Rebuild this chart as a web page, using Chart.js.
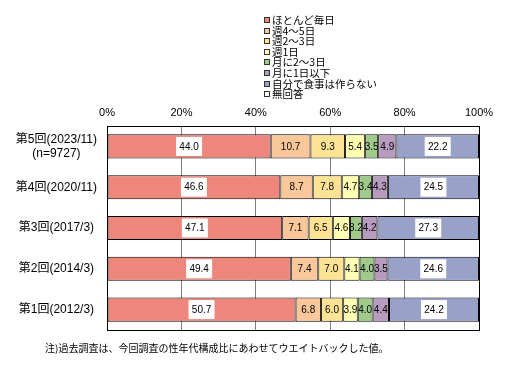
<!DOCTYPE html>
<html>
<head>
<meta charset="utf-8">
<script src="https://cdn.jsdelivr.net/npm/chart.js@4/dist/chart.umd.min.js"></script>
<style>
  html, body { margin: 0; padding: 0; background: #fff; }
  #wrap { position: relative; width: 521px; height: 369px; }
  #legend {
    position: absolute; left: 264px; top: 15px;
    font: 10.5px "Noto Sans CJK JP", sans-serif;
    line-height: 10.6px; color: #000;
  }
  #legend div { white-space: nowrap; height: 10.6px; }
  #legend span.box {
    display: inline-block; width: 4px; height: 4px;
    border: 1px solid #333; margin-right: 2px; vertical-align: 1px;
  }
  #note {
    position: absolute; left: 45px; top: 340px;
    font: 10px "Noto Sans CJK JP", sans-serif;
    color: #000; white-space: nowrap;
  }
</style>
</head>
<body>
<div id="wrap">
  <canvas id="chart" width="521" height="369"></canvas>
  <div id="legend"></div>
  <div id="note">注)過去調査は、今回調査の性年代構成比にあわせてウエイトバックした値。</div>
</div>
<script>
const rounds = [
  ["第5回(2023/11)", "(n=9727)"],
  "第4回(2020/11)",
  "第3回(2017/3)",
  "第2回(2014/3)",
  "第1回(2012/3)"
];

const seriesNames = [
  "ほとんど毎日", "週4～5日", "週2～3日", "週1日",
  "月に2～3日", "月に1日以下", "自分で食事は作らない", "無回答"
];

const almostDaily   = [44.0, 46.6, 47.1, 49.4, 50.7];
const week4to5      = [10.7, 8.7, 7.1, 7.4, 6.8];
const week2to3      = [9.3, 7.8, 6.5, 7.0, 6.0];
const week1         = [5.4, 4.7, 4.6, 4.1, 3.9];
const month2to3     = [3.5, 3.4, 3.2, 4.0, 4.0];
const month1orLess  = [4.9, 4.3, 4.2, 3.5, 4.4];
const neverCook     = [22.2, 24.5, 27.3, 24.6, 24.2];
const noAnswer      = [0, 0, 0, 0, 0];

const xTicks = [0, 20, 40, 60, 80, 100];

const colors = ["#ee877b", "#f9c79a", "#fee395", "#ffffb4", "#9fca8a", "#b89cc0", "#98a1c8", "#ffffff"];
const boxed = [0, 6];

const seriesData = [almostDaily, week4to5, week2to3, week1, month2to3, month1orLess, neverCook, noAnswer];

const datasets = seriesNames.map((name, i) => ({
  label: name,
  data: seriesData[i],
  backgroundColor: colors[i],
  borderColor: "#000",
  borderWidth: 1,
  borderSkipped: false,
  barPercentage: 0.59,
  categoryPercentage: 1
}));

// legend, one entry per line
const legendEl = document.getElementById("legend");
seriesNames.forEach((name, i) => {
  const row = document.createElement("div");
  row.innerHTML = '<span class="box" style="background:' + colors[i] + '"></span>' + name;
  legendEl.appendChild(row);
});

const valueLabels = {
  id: "valueLabels",
  afterDatasetsDraw(chart) {
    const ctx = chart.ctx;
    ctx.save();
    ctx.font = "10px 'Liberation Sans', sans-serif";
    ctx.textAlign = "center";
    ctx.textBaseline = "middle";
    chart.data.datasets.forEach((ds, di) => {
      const meta = chart.getDatasetMeta(di);
      meta.data.forEach((bar, j) => {
        const v = ds.data[j];
        if (!v) return;
        const cx = (bar.x + bar.base) / 2;
        const cy = bar.y;
        if (boxed.includes(di)) {
          ctx.fillStyle = "#fff";
          ctx.fillRect(cx - 13, cy - 9.5, 26, 19);
        }
        ctx.fillStyle = "#000";
        ctx.fillText(v.toFixed(1), cx, cy + 0.5);
      });
    });
    ctx.restore();
  },
  afterDraw(chart) {
    const a = chart.chartArea;
    const ctx = chart.ctx;
    ctx.save();
    ctx.strokeStyle = "#000";
    ctx.lineWidth = 1;
    ctx.strokeRect(Math.round(a.left) + 0.5, Math.round(a.top) + 0.5,
      Math.round(a.right - a.left), Math.round(a.bottom - a.top));
    ctx.restore();
  }
};

new Chart(document.getElementById("chart").getContext("2d"), {
  type: "bar",
  data: { labels: rounds, datasets },
  options: {
    indexAxis: "y",
    responsive: false,
    animation: false,
    devicePixelRatio: 1,
    layout: { padding: { top: 100, left: 13, right: 42, bottom: 39 } },
    plugins: {
      legend: { display: false },
      tooltip: { enabled: false }
    },
    scales: {
      x: {
        position: "top",
        stacked: true,
        min: 0,
        max: 100,
        afterBuildTicks: s => { s.ticks = xTicks.map(v => ({ value: v })); },
        afterFit: s => { s.height = 26; },
        ticks: {
          callback: v => v + "%",
          font: { size: 11, family: "'Liberation Sans', sans-serif" },
          color: "#000",
          padding: 6,
          maxRotation: 0
        },
        grid: { color: "#808080", drawTicks: false },
        border: { display: false }
      },
      y: {
        stacked: true,
        afterFit: s => { s.width = 94; },
        ticks: {
          font: { size: 12, family: "'Liberation Sans', 'Noto Sans CJK JP', sans-serif" },
          color: "#000",
          padding: 10,
          crossAlign: "center"
        },
        grid: { display: false, drawTicks: false },
        border: { display: false }
      }
    }
  },
  plugins: [valueLabels]
});
</script>
</body>
</html>
